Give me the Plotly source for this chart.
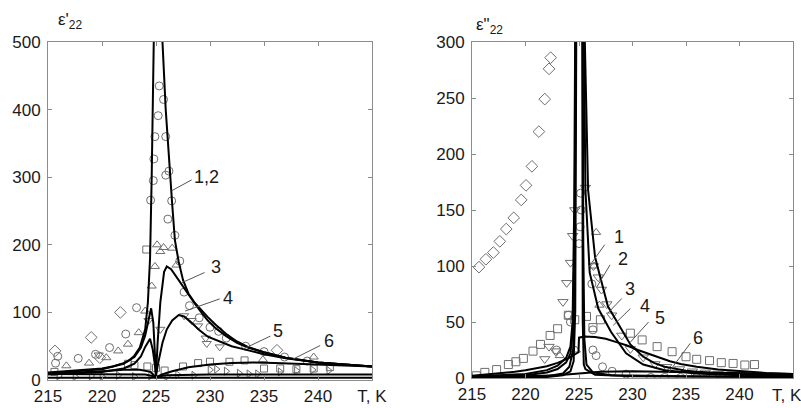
import plotly.graph_objects as go

W, H = 801, 408

# ---------------- Left panel: eps'22 ----------------
L12_T = [215, 217, 219, 220, 221, 222, 222.5, 223, 223.5, 224, 224.25, 224.45, 224.6, 224.7, 224.8, 224.85,
         None,
         225.55, 225.6, 225.9, 226.3, 226.5, 226.75, 227.1, 227.5, 228, 228.6, 229.2, 229.8, 230.5, 231.5,
         232.5, 233.5, 235, 237, 240, 242.5, 245]
L12_V = [11, 13, 15, 17, 20, 25, 29, 36, 48, 75, 115, 180, 300, 400, 500, 560,
         None,
         560, 500, 400, 300, 260, 207, 175, 148, 128, 114, 103, 93, 82, 68,
         57, 49, 41, 33, 26, 23, 20]

L3_T = [215, 218, 220, 222, 223, 223.6, 224, 224.3, 224.55, 224.75, 224.9, 225.0, 225.15, 225.4, 225.75,
        226.0, 226.4, 226.9, 227.4, 228, 228.6, 229.2, 229.8, 230.5, 231.5, 232.5, 233.5, 235, 237, 240, 245]
L3_V = [10, 13, 16, 24, 34, 48, 66, 88, 106, 85, 40, 7, 55, 115, 160,
        168, 164, 152, 140, 127, 113, 100, 88, 77, 65, 55, 48, 41, 33, 26, 20]

L4_T = [215, 218, 220, 222, 223, 223.6, 224.0, 224.45, 224.7, 224.9, 225.0, 225.2, 225.6, 226.0, 226.5,
        227.1, 227.6, 228.2, 229, 229.8, 231, 232, 233, 234, 235, 237, 240, 245]
L4_V = [8, 10, 12, 17, 24, 35, 49, 61, 45, 22, 6, 25, 55, 75, 88,
        96, 94, 86, 74, 64, 56, 50, 46, 42, 38, 32, 26, 20]

L5_T = [215, 218, 220, 222, 223.5, 224.5, 225.0, 225.5, 226.5, 228, 230, 232, 234, 236, 238, 240, 242.5, 245]
L5_V = [9, 11, 13, 15, 15, 12, 4, 8, 13, 19, 23, 25, 26, 25, 24, 22, 21, 20]

L6_T = [215, 220, 224, 225, 226, 230, 235, 240, 245]
L6_V = [9, 9, 8, 5, 7, 8, 8, 8, 8]
L6b_T = [215, 225, 245]
L6b_V = [3.5, 3.5, 3.5]

# experimental points (left)
LC_T = [225.3, 225.7, 225.2, 224.9, 225.9, 224.8, 226.2, 225.9, 224.75, 224.5, 226.45, 226.1, 226.75, 227.2,
        227.6, 228.1, 229.0, 230.0, 230.8, 231.5, 223.2, 222.2, 220.7, 219.4, 217.8, 215.9, 233.3, 235.0,
        236.9, 239.0, 215.7]
LC_V = [435, 415, 391, 360, 360, 327, 309, 303, 295, 266, 265, 238, 214, 176,
        130, 110, 92, 78, 72, 62, 107, 68, 48, 38, 32, 35, 50, 42, 34, 28, 25]

LTU_T = [225.7, 225.4, 226.5, 224.9, 224.6, 224.0, 223.4, 222.4, 221.5, 220.4, 216.7, 226.9, 239.6, 234.9,
         218.8, 225.1]
LTU_V = [196, 190, 195, 168, 139, 102, 70, 53, 43, 33, 21, 170, 34, 30, 25, 200]

LD_T = [215.65, 219.0, 221.7, 236.2, 219.8]
LD_V = [43, 63, 100, 44, 33]

LTD_T = [227.6, 228.3, 229.6, 229.7, 230.9, 219.7, 224.3, 225.4, 228.9]
LTD_V = [95, 88, 62, 54, 49, 37, 88, 75, 80]

LS_T = [224.1, 215.6, 222.4, 224.2, 225.8, 227.5, 228.9, 230.0, 231.8, 233.2, 235.0, 236.5, 238.0, 239.6,
        241.1, 223.0, 225.0]
LS_V = [193, 12, 24, 20, 14, 20, 25, 27, 27, 29, 17, 17, 16, 17, 19, 22, 18]

LTR_T = [216, 217.5, 219, 220, 221.5, 223, 224.5, 226, 227, 228.5, 230, 230.6, 231.5, 232.7, 233.6, 234.4,
         236.5, 238, 239.5, 241]
LTR_V = [6, 5, 6, 5, 7, 5, 6, 5, 8, 7, 15, 16, 13, 10, 9, 9, 12, 14, 15, 14]

# ---------------- Right panel: eps''22 ----------------
R1_T = [215, 222, 223.5, 224.2, 224.5, 224.65, 224.75, 225.3, 225.35, 225.45, 225.6, 226.5, 230, 245]
R1_V = [0.3, 1, 2.5, 6, 15, 60, 320, 320, 50, 12, 8, 3, 1.5, 0.8]

R2_T = [215, 222, 223.5, 224.1, 224.45, 224.6, 224.7, 225.35, 225.4, 225.5, 225.7, 226.3, 228, 235, 245]
R2_V = [0.5, 1.5, 4, 10, 25, 80, 320, 320, 120, 35, 12, 5, 2.5, 1.5, 1]

R3_T = [215, 220, 222, 223, 223.8, 224.2, 224.45, 224.6, 224.7, 225.45, 225.6, 226.0, 226.8, 228.0, 229.4,
        231, 233, 236, 240, 245]
R3_V = [1, 2.5, 5, 8, 14, 22, 45, 150, 320, 320, 168, 94, 62, 41, 22,
        12, 7, 4, 2.5, 1.8]

R4_T = [215, 220, 222, 223, 223.8, 224.2, 224.4, 224.55, 224.65, 225.5, 225.85, 226.5, 227.7, 229.0, 229.8,
        231, 232, 233, 235, 238, 241, 245]
R4_V = [1.5, 3.5, 7, 11, 18, 28, 50, 150, 320, 320, 168, 108, 64, 43, 30,
        19, 13.5, 10, 6.5, 4, 3, 2.5]

R5_T = [215, 217, 219, 220, 221, 222, 223, 224, 224.6, 224.95, 225.0, 225.5, 226.5, 227.5, 228.5, 229.5, 230.5,
        231.5, 232.5, 233.5, 234.5, 236, 238, 240, 242.5, 245]
R5_V = [2, 3.5, 5.5, 7, 8.5, 10.5, 13.5, 17.5, 21, 23, 36, 37, 36.5, 35, 32, 29, 25,
        21.5, 18, 15, 12.5, 10, 7.5, 6, 4.5, 3.6]

R6_T = [215, 220, 223, 225, 227, 230, 233, 236, 240, 245]
R6_V = [1, 1.5, 2.5, 4, 5.5, 6, 5.5, 5, 4, 3.5]

# experimental points (right)
RD_T = [222.35, 222.2, 221.8, 221.25, 220.6, 220.05, 219.6, 218.9, 218.2, 217.6, 217.0, 216.3, 215.65]
RD_V = [286, 276, 249, 220, 189, 172, 159, 143, 133, 122, 112, 106, 99]

RTD_T = [224.2, 223.85, 223.5, 224.4, 221.8, 222.8, 226.35, 227.1, 227.6, 228.05, 229.0, 229.8, 231.0, 232.1,
         233.2, 234.4, 235.6, 236.8, 238.0, 239.3, 240.2, 224.6, 225.6, 222.2, 226.8]
RTD_V = [103, 85, 68, 127, 17, 24, 100, 79, 66, 56, 38, 26, 18.5, 12.5,
         10, 8, 6, 5, 4, 3.5, 3, 150, 170, 28, 90]

RS_T = [215.4, 216.2, 217.3, 218.4, 219.1, 219.8, 220.7, 221.4, 222.3, 223.0, 224.0, 225.7, 227.0, 229.8,
        230.9, 232.3, 233.7, 235.0, 236.0, 237.2, 238.3, 239.4, 240.5, 241.4, 224.6, 226.3]
RS_V = [2, 5, 7.5, 12, 14.5, 17.5, 24, 30, 38, 44, 56, 55, 52, 40,
        34, 28, 23.5, 19, 16.7, 15.5, 13.7, 13, 11.6, 12, 52, 45]

RC_T = [226.2, 226.3, 226.3, 226.6, 227.2, 228.1, 229.4, 224.0, 224.2, 222.9, 225.2, 225.0, 231.7, 233.0,
        234.5, 236.0, 237.5, 239.0, 240.5, 225.1, 225.15]
RC_V = [84, 43, 25, 20, 10, 6, 3.5, 56, 50, 25, 150, 120, 0.5, 0.5, 0.5, 0.5, 0.5, 0.5, 0.5, 135, 165]

RTU_T = [226.4, 226.6, 224.7, 223.2, 226.9]
RTU_V = [100, 130, 25, 20, 65]

X_TICKS = [215, 220, 225, 230, 235, 240, 245]
X_TEXT_L = ["215", "220", "225", "230", "235", "240", "T, K"]
X_TEXT_R = ["215", "220", "225", "230", "235", "240", ""]
X_TITLE = "T, K"
YL_TICKS = [0, 100, 200, 300, 400, 500]
YR_TICKS = [0, 50, 100, 150, 200, 250, 300]

# curve labels: text, text T, text value, leader start T/value, leader end T/value
LAB_LEFT = [("1,2", 229.7, 300, 228.3, 296, 226.45, 280),
            ("3", 230.6, 167, 229.5, 159, 227.4, 144),
            ("4", 231.7, 122, 230.9, 120, 227.7, 102),
            ("5", 236.3, 73, 235.6, 65, 233.1, 46),
            ("6", 241.0, 58, 240.2, 51, 237.7, 31)]
LAB_RIGHT = [("1", 228.7, 126, 227.4, 119, 225.9, 99),
             ("2", 229.1, 106, 227.9, 101, 226.65, 81),
             ("3", 229.8, 79.5, 229.0, 71, 227.7, 58),
             ("4", 231.2, 64.5, 229.8, 62, 228.2, 47),
             ("5", 232.6, 54, 231.5, 50, 229.8, 32),
             ("6", 236.15, 36, 235.4, 31, 233.3, 4)]

fig = go.Figure()

LINE = dict(color="black", width=2)
MK_COL = "#6e6e6e"


def curve(x, y, xa, ya):
    fig.add_trace(go.Scatter(x=x, y=y, mode="lines", line=LINE, xaxis=xa, yaxis=ya,
                             showlegend=False, hoverinfo="skip", connectgaps=False))


def pts(x, y, sym, xa, ya, size=8):
    fig.add_trace(go.Scatter(x=x, y=y, mode="markers", xaxis=xa, yaxis=ya, showlegend=False,
                             cliponaxis=True,
                             marker=dict(symbol=sym, size=size, color=MK_COL,
                                         line=dict(color=MK_COL, width=1))))


# left markers
pts(LC_T, LC_V, "circle-open", "x", "y")
pts(LTU_T, LTU_V, "triangle-up-open", "x", "y")
pts(LD_T, LD_V, "diamond-open", "x", "y", 9)
pts(LTD_T, LTD_V, "triangle-down-open", "x", "y")
pts(LS_T, LS_V, "square-open", "x", "y", 7)
pts(LTR_T, LTR_V, "triangle-right-open", "x", "y", 7)
for tx, vy in [(L12_T, L12_V), (L3_T, L3_V), (L4_T, L4_V), (L5_T, L5_V), (L6_T, L6_V), (L6b_T, L6b_V)]:
    curve(tx, vy, "x", "y")

# right markers
pts(RD_T, RD_V, "diamond-open", "x2", "y2", 9)
pts(RTD_T, RTD_V, "triangle-down-open", "x2", "y2", 9)
pts(RS_T, RS_V, "square-open", "x2", "y2", 8)
pts(RC_T, RC_V, "circle-open", "x2", "y2")
pts(RTU_T, RTU_V, "triangle-up-open", "x2", "y2")
for tx, vy in [(R1_T, R1_V), (R2_T, R2_V), (R3_T, R3_V), (R4_T, R4_V), (R5_T, R5_V), (R6_T, R6_V)]:
    curve(tx, vy, "x2", "y2")

FONT = dict(family="Liberation Sans, Arial, sans-serif", size=17, color="#1a1a1a")
AX = dict(showgrid=False, zeroline=False, showline=True, mirror="ticks", linecolor="#8c8c8c",
          linewidth=1, ticks="inside", ticklen=4, tickcolor="#8c8c8c", tickfont=FONT,
          automargin=False, ticklabeloverflow="allow")


def px(xp):
    return xp / W


def py(yp):
    return (H - yp) / H


fig.update_layout(
    width=W, height=H, margin=dict(l=0, r=0, t=0, b=0),
    paper_bgcolor="white", plot_bgcolor="white",
    xaxis=dict(AX, domain=[px(48), px(372)], range=[215, 245], tickvals=X_TICKS, ticktext=X_TEXT_L,
               anchor="y", ticklabelstandoff=1),
    yaxis=dict(AX, domain=[py(380), py(42)], range=[0, 500], tickvals=YL_TICKS, anchor="x",
               ticklabelstandoff=3),
    xaxis2=dict(AX, domain=[px(472), px(793)], range=[215, 245], tickvals=X_TICKS, ticktext=X_TEXT_R,
                anchor="y2", ticklabelstandoff=1),
    yaxis2=dict(AX, domain=[py(378), py(42)], range=[0, 300], tickvals=YR_TICKS, anchor="x2",
                ticklabelstandoff=3),
)

LBL = dict(family="Liberation Sans, Arial, sans-serif", size=17, color="#1a1a1a")
ann = [
    dict(x=px(56), y=py(21), text="ε'<sub>22</sub>", xanchor="left", yanchor="middle", font=LBL),
    dict(x=px(474), y=py(26), text="ε\"<sub>22</sub>", xanchor="left", yanchor="middle", font=LBL),
    dict(x=px(770), y=py(395), text=X_TITLE, xanchor="left", yanchor="middle", font=FONT),
]
for a in ann:
    a.update(xref="paper", yref="paper", showarrow=False)

LABF = dict(family="Liberation Sans, Arial, sans-serif", size=18, color="#1a1a1a")
shapes = []
for xa, ya, labs in [("x", "y", LAB_LEFT), ("x2", "y2", LAB_RIGHT)]:
    for t, xt, yt, x0, y0, x1, y1 in labs:
        ann.append(dict(x=xt, y=yt, xref=xa, yref=ya, text=t, showarrow=False,
                        xanchor="center", yanchor="middle", font=LABF))
        shapes.append(dict(type="line", xref=xa, yref=ya, x0=x0, y0=y0, x1=x1, y1=y1,
                           line=dict(color="#555", width=1)))

fig.update_layout(annotations=ann, shapes=shapes)
fig.write_html("out.html", config={"displayModeBar": False},
               post_script="document.body.style.margin='0';document.body.style.overflow='hidden';")
